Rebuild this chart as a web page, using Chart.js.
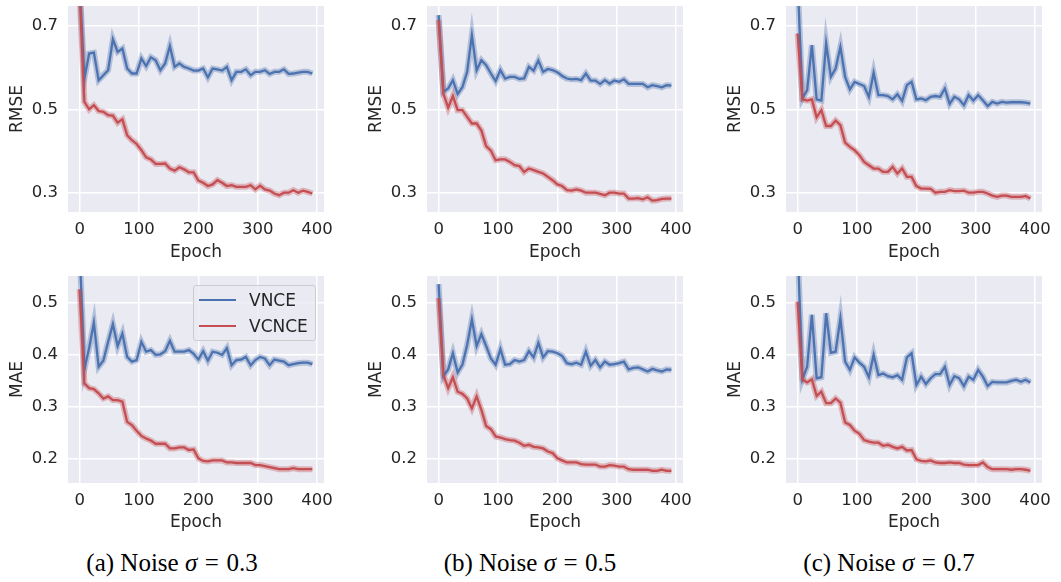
<!DOCTYPE html>
<html>
<head>
<meta charset="utf-8">
<script src="https://cdn.jsdelivr.net/npm/chart.js@4.4.1/dist/chart.umd.min.js"></script>
<style>
  body { margin: 0; background: #fff; }
  #wrap { position: relative; width: 1061px; height: 582px; overflow: hidden; }
  .panel { position: absolute; width: 350px; height: 262px; }
  .cap { position: absolute; top: 549px; width: 320px; text-align: center;
         font-family: "Liberation Serif", "DejaVu Serif", serif; font-size: 25px; color: #000; }
  .cap .eq { padding: 0 0.3em; }
  .legend { position: absolute; left: 193px; top: 285px; width: 121px; height: 54px;
            background: rgba(234,234,242,0.8); border: 1px solid #cccccc; border-radius: 3px;
            font-family: "DejaVu Sans", sans-serif; font-size: 17px; color: #262626; }
  .legend .row { position: absolute; left: 5px; height: 20px; line-height: 20px; }
  .legend .swatch { position: absolute; left: 0; top: 9px; width: 37px; height: 0; border-top: 2.2px solid; }
  .legend .txt { position: absolute; left: 50px; top: 0; white-space: nowrap; }
</style>
</head>
<body>
<div id="wrap">
  <div class="panel" style="left:0;top:0"><canvas id="p1" width="350" height="262"></canvas></div>
  <div class="panel" style="left:359px;top:0"><canvas id="p2" width="350" height="262"></canvas></div>
  <div class="panel" style="left:718px;top:0"><canvas id="p3" width="350" height="262"></canvas></div>
  <div class="panel" style="left:0;top:270px"><canvas id="p4" width="350" height="262"></canvas></div>
  <div class="panel" style="left:359px;top:270px"><canvas id="p5" width="350" height="262"></canvas></div>
  <div class="panel" style="left:718px;top:270px"><canvas id="p6" width="350" height="262"></canvas></div>

  <div class="legend" id="legend"></div>

  <div class="cap" style="left:12px">(a) Noise <i>σ</i><span class="eq">=</span>0.3</div>
  <div class="cap" style="left:370px">(b) Noise <i>σ</i><span class="eq">=</span>0.5</div>
  <div class="cap" style="left:729px">(c) Noise <i>σ</i><span class="eq">=</span>0.7</div>
</div>

<script>
const seriesNames = ["VNCE", "VCNCE"];
const epochs = [0,8,16,24,32,40,48,56,64,72,80,88,96,104,112,120,128,136,144,152,160,168,176,184,192,
  200,208,216,224,232,240,248,256,264,272,280,288,296,304,312,320,328,336,344,352,360,368,376,384,392];

const xTicks = [0, 100, 200, 300, 400];
const rmseTicks = [0.3, 0.5, 0.7];
const maeTicks = [0.2, 0.3, 0.4, 0.5];

// RMSE, noise 0.3 / 0.5 / 0.7
const rmseVnce03 = [0.80,0.574,0.634,0.636,0.570,0.582,0.594,0.668,0.638,0.646,0.598,0.586,0.586,0.622,0.604,0.625,0.618,0.594,0.610,0.652,0.602,0.610,0.602,0.598,0.593,
  0.593,0.598,0.577,0.598,0.596,0.593,0.602,0.570,0.590,0.590,0.596,0.582,0.590,0.590,0.594,0.585,0.590,0.590,0.596,0.585,0.586,0.588,0.590,0.590,0.586];
const rmseVcnce03 = [0.78,0.518,0.500,0.510,0.496,0.494,0.486,0.485,0.468,0.476,0.438,0.426,0.417,0.402,0.385,0.380,0.369,0.369,0.370,0.358,0.353,0.361,0.356,0.349,0.349,
  0.329,0.324,0.316,0.320,0.330,0.324,0.316,0.318,0.314,0.314,0.314,0.318,0.308,0.317,0.308,0.305,0.298,0.294,0.300,0.300,0.306,0.300,0.305,0.302,0.298];
const rmseVnce05 = [0.726,0.542,0.550,0.570,0.537,0.553,0.590,0.678,0.594,0.618,0.606,0.586,0.568,0.594,0.574,0.578,0.578,0.573,0.574,0.602,0.593,0.617,0.590,0.597,0.594,
  0.589,0.580,0.574,0.572,0.573,0.570,0.586,0.569,0.569,0.561,0.570,0.562,0.569,0.566,0.572,0.561,0.561,0.561,0.561,0.553,0.558,0.556,0.553,0.558,0.557];
const rmseVcnce05 = [0.714,0.538,0.504,0.532,0.498,0.498,0.482,0.466,0.466,0.449,0.412,0.401,0.378,0.380,0.380,0.374,0.366,0.364,0.350,0.358,0.354,0.350,0.346,0.338,0.330,
  0.320,0.316,0.306,0.305,0.308,0.305,0.300,0.300,0.300,0.297,0.294,0.300,0.300,0.298,0.298,0.286,0.286,0.287,0.284,0.289,0.281,0.282,0.285,0.286,0.286];
const rmseVnce07 = [0.81,0.526,0.546,0.654,0.524,0.521,0.658,0.578,0.598,0.650,0.578,0.548,0.566,0.561,0.556,0.530,0.588,0.534,0.534,0.532,0.524,0.536,0.520,0.558,0.566,
  0.524,0.526,0.522,0.530,0.532,0.530,0.550,0.513,0.530,0.524,0.510,0.534,0.521,0.534,0.522,0.508,0.518,0.514,0.518,0.516,0.517,0.517,0.517,0.516,0.514];
const rmseVcnce07 = [0.682,0.524,0.521,0.524,0.481,0.498,0.460,0.460,0.473,0.462,0.420,0.410,0.402,0.390,0.374,0.366,0.358,0.358,0.350,0.350,0.362,0.346,0.358,0.338,0.338,
  0.316,0.310,0.310,0.309,0.300,0.302,0.302,0.306,0.304,0.304,0.305,0.300,0.300,0.302,0.302,0.298,0.293,0.290,0.293,0.293,0.290,0.290,0.290,0.292,0.286];

// MAE, noise 0.3 / 0.5 / 0.7
const maeVnce03 = [0.60,0.371,0.412,0.461,0.376,0.388,0.424,0.458,0.416,0.440,0.395,0.386,0.389,0.424,0.405,0.408,0.399,0.400,0.406,0.426,0.405,0.405,0.405,0.408,0.401,
  0.390,0.406,0.388,0.405,0.403,0.399,0.412,0.379,0.389,0.390,0.395,0.379,0.389,0.395,0.392,0.379,0.390,0.388,0.386,0.379,0.381,0.383,0.384,0.384,0.381];
const maeVcnce03 = [0.525,0.344,0.335,0.333,0.325,0.315,0.319,0.312,0.312,0.309,0.270,0.264,0.253,0.243,0.238,0.234,0.228,0.228,0.228,0.219,0.219,0.221,0.221,0.216,0.217,
  0.200,0.195,0.194,0.196,0.196,0.196,0.192,0.192,0.191,0.191,0.191,0.191,0.187,0.187,0.185,0.183,0.181,0.179,0.179,0.179,0.181,0.179,0.179,0.179,0.179];
const maeVnce05 = [0.535,0.358,0.371,0.402,0.365,0.380,0.418,0.467,0.416,0.439,0.416,0.392,0.380,0.410,0.380,0.381,0.389,0.386,0.389,0.406,0.394,0.422,0.394,0.406,0.405,
  0.402,0.397,0.383,0.381,0.384,0.380,0.405,0.378,0.389,0.375,0.386,0.380,0.381,0.383,0.386,0.371,0.374,0.375,0.371,0.367,0.372,0.369,0.367,0.371,0.370];
const maeVcnce05 = [0.508,0.360,0.335,0.356,0.328,0.324,0.315,0.296,0.319,0.293,0.262,0.256,0.242,0.240,0.237,0.235,0.234,0.230,0.224,0.226,0.222,0.221,0.219,0.213,0.210,
  0.200,0.196,0.192,0.192,0.192,0.189,0.188,0.188,0.188,0.184,0.184,0.187,0.186,0.184,0.184,0.179,0.178,0.178,0.178,0.178,0.176,0.176,0.178,0.176,0.176];
const maeVnce07 = [0.61,0.352,0.376,0.476,0.354,0.356,0.479,0.403,0.405,0.469,0.386,0.370,0.394,0.384,0.376,0.356,0.399,0.360,0.363,0.358,0.356,0.360,0.351,0.394,0.402,
  0.341,0.357,0.343,0.354,0.362,0.362,0.376,0.341,0.358,0.354,0.339,0.357,0.351,0.370,0.357,0.339,0.347,0.346,0.346,0.346,0.349,0.351,0.347,0.351,0.346];
const maeVcnce07 = [0.501,0.352,0.346,0.352,0.320,0.328,0.306,0.306,0.315,0.307,0.269,0.264,0.253,0.247,0.235,0.232,0.230,0.230,0.224,0.226,0.222,0.219,0.222,0.215,0.216,
  0.198,0.195,0.194,0.196,0.192,0.191,0.191,0.192,0.191,0.191,0.188,0.187,0.187,0.187,0.192,0.183,0.179,0.179,0.179,0.179,0.178,0.179,0.179,0.178,0.176];

const BLUE = "#4C72B0", RED = "#C44E52";
const BLUE_BAND = "rgba(76,114,176,0.35)", RED_BAND = "rgba(196,78,82,0.35)";
const TEXT = "#262626";
const FONT = "'DejaVu Sans', sans-serif";

// axes background (seaborn darkgrid)
const bgPlugin = {
  id: "bg",
  beforeDraw(chart) {
    const a = chart.chartArea, ctx = chart.ctx;
    ctx.save();
    ctx.fillStyle = "#EAEAF2";
    ctx.fillRect(a.left, a.top, a.right - a.left, a.bottom - a.top);
    ctx.restore();
  }
};

function pts(vals) {
  return vals.map((v, i) => ({ x: epochs[i], y: v }));
}

function makePanel(id, vnce, vcnce, yTicks, yMin, yMax, yTitle, xHeight) {
  const ds = (label, vals, color, width, order) => ({
    label, data: pts(vals), borderColor: color, borderWidth: width,
    pointRadius: 0, tension: 0, fill: false, clip: 0, order
  });
  new Chart(document.getElementById(id), {
    type: "line",
    data: {
      datasets: [
        ds(seriesNames[1], vcnce, RED, 2.3, 0),
        ds(seriesNames[0], vnce, BLUE, 2.3, 1),
        ds(seriesNames[1] + " band", vcnce, RED_BAND, 6, 2),
        ds(seriesNames[0] + " band", vnce, BLUE_BAND, 6, 3)
      ]
    },
    options: {
      responsive: false,
      animation: false,
      layout: { padding: { top: 6, right: 26, left: 0, bottom: 0 } },
      plugins: { legend: { display: false }, tooltip: { enabled: false } },
      scales: {
        x: {
          type: "linear", min: -19.6, max: 411.6,
          afterBuildTicks: s => { s.ticks = xTicks.map(v => ({ value: v })); },
          afterFit: s => { s.height = xHeight; s.paddingLeft = 0; s.paddingRight = 0; },
          grid: { color: "#ffffff", lineWidth: 1.5, drawTicks: false },
          border: { display: false },
          ticks: { color: TEXT, font: { family: FONT, size: 16.5 }, padding: 8, maxRotation: 0 },
          title: { display: true, text: "Epoch", color: TEXT, font: { family: FONT, size: 17 },
                   padding: { top: 0, bottom: -1 } }
        },
        y: {
          type: "linear", min: yMin, max: yMax,
          afterBuildTicks: s => { s.ticks = yTicks.map(v => ({ value: v })); },
          afterFit: s => { s.width = 68; s.paddingTop = 0; s.paddingBottom = 0; },
          grid: { color: "#ffffff", lineWidth: 1.5, drawTicks: false },
          border: { display: false },
          ticks: { color: TEXT, font: { family: FONT, size: 16.5 }, padding: 10,
                   callback: v => v.toFixed(1) },
          title: { display: true, text: yTitle, color: TEXT, font: { family: FONT, size: 17 },
                   padding: { top: 7, bottom: 0 } }
        }
      }
    },
    plugins: [bgPlugin]
  });
}

makePanel("p1", rmseVnce03, rmseVcnce03, rmseTicks, 0.2537, 0.748, "RMSE", 50);
makePanel("p2", rmseVnce05, rmseVcnce05, rmseTicks, 0.2537, 0.748, "RMSE", 50);
makePanel("p3", rmseVnce07, rmseVcnce07, rmseTicks, 0.2537, 0.748, "RMSE", 50);
makePanel("p4", maeVnce03, maeVcnce03, maeTicks, 0.1525, 0.5506, "MAE", 49);
makePanel("p5", maeVnce05, maeVcnce05, maeTicks, 0.1525, 0.5506, "MAE", 49);
makePanel("p6", maeVnce07, maeVcnce07, maeTicks, 0.1525, 0.5506, "MAE", 49);

// legend box inside panel (a) MAE
const legendColors = [BLUE, RED];
const legend = document.getElementById("legend");
seriesNames.forEach((name, i) => {
  const row = document.createElement("div");
  row.className = "row";
  row.style.top = (4 + i * 26) + "px";
  row.innerHTML = '<span class="swatch" style="border-color:' + legendColors[i] + '"></span><span class="txt">' + name + '</span>';
  legend.appendChild(row);
});
</script>
</body>
</html>
